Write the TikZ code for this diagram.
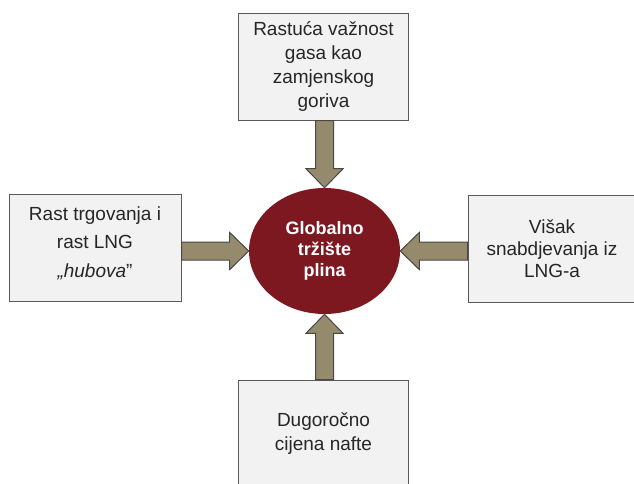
\documentclass[tikz,border=0pt]{standalone}
\usepackage{fontspec}
\setmainfont{Liberation Sans}
\usetikzlibrary{calc,shapes.geometric}

\definecolor{boxfill}{HTML}{F2F2F2}
\definecolor{boxline}{HTML}{595959}
\definecolor{khaki}{HTML}{958B6C}
\definecolor{marketred}{HTML}{7E1820}
\definecolor{textgray}{HTML}{262626}

% block arrow from node anchor #1 to node anchor #2
\newcommand{\blockarrow}[2]{%
  \draw[blockarr] ($(#1)!6.75pt!90:(#2)$)
    -- ($($(#2)!14.25pt!(#1)$)!6.75pt!90:(#2)$)
    -- ($($(#2)!14.25pt!(#1)$)!13.9pt!90:(#2)$)
    -- (#2)
    -- ($($(#2)!14.25pt!(#1)$)!13.9pt!-90:(#2)$)
    -- ($($(#2)!14.25pt!(#1)$)!6.75pt!-90:(#2)$)
    -- ($(#1)!6.75pt!-90:(#2)$) -- cycle;}

\begin{document}
\begin{tikzpicture}[x=0.75pt, y=-0.75pt,
      factor/.style = {draw=boxline, fill=boxfill, line width=0.75pt, rectangle,
                       minimum width=127.5pt, minimum height=80.25pt, inner sep=2pt,
                       align=center, text=textgray,
                       font=\fontsize{14.25pt}{18pt}\selectfont},
      market/.style = {ellipse, fill=marketred, inner sep=0pt,
                       minimum width=113.25pt, minimum height=94.5pt,
                       align=center, text=white,
                       font=\fontsize{13.5pt}{15.75pt}\selectfont\bfseries},
      blockarr/.style = {draw=black!72, fill=khaki, line width=0.75pt, line join=miter}]
      \useasboundingbox (0,0) rectangle (634,483);
      \clip (0,0) rectangle (634,483);

      \node[market] (market) at (324.5,251) {Globalno\\tržište\\plina};

      \node[factor] (supstitut) at (323.5,66.5) {Rastuća važnost\\gasa kao\\zamjenskog\\goriva};
      \node[factor, minimum width=129pt, font=\fontsize{14.25pt}{21.4pt}\selectfont]
            (trgovina) at (95,248) {Rast trgovanja i\\rast LNG\\\textit{„hubova}”\\[-12.4pt]};
      \node[factor, minimum width=126pt, font=\fontsize{14.25pt}{16.5pt}\selectfont]
            (visak) at (552,248.5) {Višak\\snabdjevanja iz\\LNG-a};
      \node[factor] (nafta) at (323.5,433.5) {Dugoročno\\cijena nafte};

      \blockarrow{market.north |- supstitut.south}{market.north}
      \blockarrow{market.west -| trgovina.east}{market.west}
      \blockarrow{market.east -| visak.west}{market.east}
      \blockarrow{market.south |- nafta.north}{market.south}
\end{tikzpicture}
\end{document}
